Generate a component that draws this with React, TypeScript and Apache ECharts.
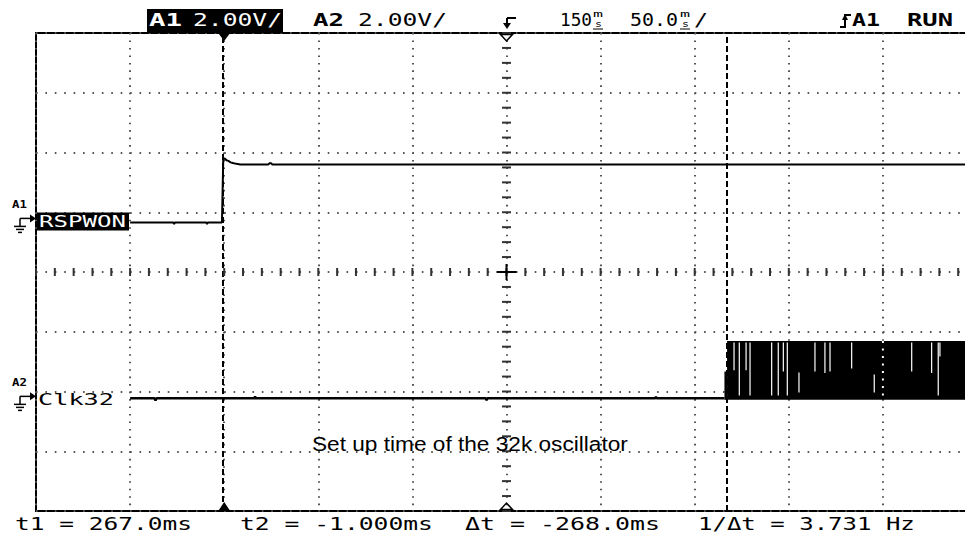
import React, { useEffect, useRef } from "react";
import * as echarts from "echarts";

// ---------------- data ----------------
const timeMin = -100; // ms (50 ms/div, 10 div)
const timeMax = 400;
const timeStep = 50;
const voltMin = -8; // V (2 V/div, 8 div)
const voltMax = 8;
const voltStep = 2;

const a1Offset = 1.66; // screen position of A1 ground (V)
const a2Offset = -4.23; // screen position of A2 ground (V)

// A1 : RSPWON
const a1Time = [-50, -27, -26.6, -26.2, -9.5, -9.1, -8.7, -1.2, -0.9, -0.5, 0.3, 1.2, 2.2, 3.4, 4.6, 6.5, 8.5, 23.5, 24, 25, 25.5, 400];
const a1Volt = [0, 0, -0.06, 0, 0, -0.06, 0, 0, 0.9, 2.12, 2.14, 2.08, 2.06, 2.01, 1.99, 1.96, 1.94, 1.94, 1.98, 1.98, 1.94, 1.94];

// A2 : Clk32 baseline before the oscillator starts
const a2Time = [-50, -37, -36.5, -36, 16, 16.4, 16.8, 139, 139.4, 139.8, 229, 229.4, 229.8, 265.8];
const a2Volt = [0, 0, -0.07, 0, 0, 0.06, 0, 0, -0.06, 0, 0, 0.05, 0, 0];

// A2 : oscillating clock envelope (peak detect)
const clkStart = [265.8, 267.2];
const clkEnd = [267.2, 400];
const clkLow = [-0.05, -0.05];
const clkHigh = [0.9, 1.92];

// A2 : untoggled slivers inside the burst
const gapTime = [270.9, 273.7, 277.3, 279.4, 290.9, 294.4, 297.1, 299.2, 305.4, 313.9, 319.2, 321.9, 333.4, 345.4, 365.3, 375.9, 379.4, 380.3];
const gapTop = [1.87, 1.87, 1.87, 1.87, 1.87, 1.87, 1.87, 1.87, 0.87, 1.87, 1.87, 1.87, 1.87, 0.8, 1.87, 1.87, 1.87, 1.87];
const gapBottom = [0.94, 0.1, 0.94, 0.1, 0.1, 0.1, 0.9, 0.1, 0.2, 0.9, 0.85, 0.9, 1.0, 0.2, 0.9, 0.85, 0.1, 1.4];

const cursorT1 = 267.0;
const cursorT2 = -1.0;
const triggerT = 0;

// texts
const a1Name = "A1";
const a2Name = "A2";
const a1Scale = "2.00V/";
const a2Scale = "2.00V/";
const delayText = "150";
const timebaseText = "50.0";
const runText = "RUN";
const a1Label = "RSPWON";
const a2Label = "Clk32";
const t1Text = "t1 = 267.0ms";
const t2Text = "t2 = -1.000ms";
const dtText = "\u0394t = -268.0ms";
const invText = "1/\u0394t = 3.731 Hz";
const noteText = "Set up time of the 32k oscillator";

// ---------------- layout ----------------
const GL = 36;
const GT = 33;
const GW = 941;
const GH = 478;
const MONO = "DejaVu Sans Mono";

let measureCtx: CanvasRenderingContext2D | null = null;
function measure(text: string, font: string) {
  if (!measureCtx) measureCtx = document.createElement("canvas").getContext("2d");
  if (!measureCtx) return text.length * 10;
  measureCtx.font = font;
  return measureCtx.measureText(text).width;
}

function fitText(text: string, x: number, y: number, width: number, size: number, fill: string, weight = "normal", family = MONO) {
  const w = measure(text, `${weight} ${size}px "${family}"`);
  return {
    type: "text",
    x,
    y,
    scaleX: width / w,
    z: 100,
    style: {
      text,
      fill,
      fontSize: size,
      fontWeight: weight,
      fontFamily: family,
      textAlign: "left",
      textVerticalAlign: "middle",
      verticalAlign: "middle",
    },
  };
}

function line(x1: number, y1: number, x2: number, y2: number, w = 2, color = "#000", dash?: number[]) {
  return {
    type: "line",
    z: 100,
    shape: { x1, y1, x2, y2 },
    style: { stroke: color, lineWidth: w, lineDash: dash },
  };
}

function poly(points: number[][], fill: string | null, stroke: string | null = null) {
  return {
    type: "polygon",
    z: 100,
    shape: { points },
    style: { fill: fill || "none", stroke: stroke || "none", lineWidth: 1.5 },
  };
}

function groundSymbol(y: number, name: string) {
  return [
    fitText(name, 12, y - 16, 15, 11, "#000", "bold"),
    line(20, y + 6, 20, y - 2, 1.5),
    line(20, y - 2, 31, y - 2, 1.5),
    poly([[30, y - 6], [36, y - 2], [30, y + 2]], "#000"),
    line(14, y + 6, 26, y + 6, 1.5),
    line(16, y + 9, 24, y + 9, 1.5),
    line(18, y + 12, 22, y + 12, 1.5),
  ];
}

export default function App() {
  const ref = useRef<HTMLDivElement>(null);

  useEffect(() => {
    if (!ref.current) return;
    const chart = echarts.init(ref.current, undefined, { renderer: "svg" });

    const a1Data = a1Time.map((t, i) => [t, a1Volt[i] + a1Offset]);
    const a2Data = a2Time.map((t, i) => [t, a2Volt[i] + a2Offset]);
    const clkData = clkStart.map((s, i) => [s, clkEnd[i], clkLow[i] + a2Offset, clkHigh[i] + a2Offset]);
    const gapData = gapTime.map((t, i) => [t, gapTop[i] + a2Offset, gapBottom[i] + a2Offset]);

    chart.setOption({
      animation: false,
      backgroundColor: "#fff",
      grid: {
        left: GL,
        top: GT,
        width: GW,
        height: GH,
        show: true,
        borderColor: "#000",
        borderWidth: 2,
        backgroundColor: "transparent",
        containLabel: false,
        outerBoundsMode: "none",
      },
      xAxis: {
        type: "value",
        min: timeMin,
        max: timeMax,
        interval: timeStep,
        axisLine: { show: false },
        axisTick: { show: false },
        axisLabel: { show: false },
        splitLine: { show: true, lineStyle: { color: "#555", width: 2, type: [1.6, 5.87] } },
      },
      yAxis: {
        type: "value",
        min: voltMin,
        max: voltMax,
        interval: voltStep,
        axisLine: { show: false },
        axisTick: { show: false },
        axisLabel: { show: false },
        splitLine: { show: true, lineStyle: { color: "#555", width: 2, type: [1.6, 7.81] } },
      },
      series: [
        {
          type: "line",
          data: a1Data,
          showSymbol: false,
          symbol: "none",
          lineStyle: { color: "#000", width: 2 },
          z: 3,
          markLine: {
            silent: true,
            symbol: ["none", "none"],
            label: { show: false },
            lineStyle: { color: "#000", width: 2, type: [6, 3] },
            data: [{ xAxis: cursorT2 }, { xAxis: cursorT1 }],
          },
        },
        {
          type: "line",
          data: a2Data,
          showSymbol: false,
          symbol: "none",
          lineStyle: { color: "#000", width: 2.5 },
          z: 3,
        },
        {
          type: "custom",
          data: clkData,
          encode: { x: [0, 1], y: [2, 3] },
          z: 4,
          renderItem: (_p: any, api: any) => {
            const p0 = api.coord([api.value(0), api.value(3)]);
            const p1 = api.coord([api.value(1), api.value(2)]);
            return {
              type: "rect",
              shape: { x: p0[0], y: p0[1], width: p1[0] - p0[0], height: p1[1] - p0[1] },
              style: { fill: "#000" },
            };
          },
        },
        {
          type: "custom",
          data: gapData,
          encode: { x: 0, y: [1, 2] },
          z: 5,
          renderItem: (_p: any, api: any) => {
            const p0 = api.coord([api.value(0), api.value(1)]);
            const p1 = api.coord([api.value(0), api.value(2)]);
            return {
              type: "line",
              shape: { x1: p0[0], y1: p0[1], x2: p1[0], y2: p1[1] },
              style: { stroke: "#fff", lineWidth: 1.2 },
            };
          },
        },
      ],
    });

    const toPx = (t: number, v: number) => chart.convertToPixel({ xAxisIndex: 0, yAxisIndex: 0 }, [t, v]) as number[];
    const center = toPx((timeMin + timeMax) / 2, 0);
    const cx = center[0];
    const cy = center[1];
    const dx = GW / 10;
    const dy = GH / 8;
    const trigX = toPx(triggerT, 0)[0];
    const a1Y = toPx(0, a1Offset)[1];
    const a2Y = toPx(0, a2Offset)[1];
    const gridX = toPx(350, 0)[0];
    const burstTop = toPx(0, clkHigh[1] + a2Offset)[1];
    const burstBot = toPx(0, clkLow[1] + a2Offset)[1];

    const g: any[] = [];
    // centre graticule ticks
    for (let i = 0; i <= 50; i++) {
      const x = GL + (i * dx) / 5;
      g.push(line(x, cy - 4, x, cy + 4, 2, "#333"));
    }
    for (let j = 0; j <= 32; j++) {
      const y = GT + (j * dy) / 4;
      g.push(line(cx - 4.5, y, cx + 4.5, y, 2, "#333"));
    }
    g.push(line(cx - 10, cy, cx + 10, cy, 2));
    g.push(line(cx, cy - 8, cx, cy + 8, 2));
    // white graticule dots through the burst
    g.push(line(gridX, burstTop, gridX, burstBot, 2, "#fff", [2, 5.5]));

    // trigger markers
    g.push(poly([[trigX - 6, GT], [trigX + 6, GT], [trigX, GT + 8]], "#000"));
    g.push(poly([[trigX - 6, GT + GH], [trigX + 6, GT + GH], [trigX, GT + GH - 9]], "#000"));
    g.push(poly([[cx - 6, GT + 1.5], [cx + 6, GT + 1.5], [cx, GT + 8]], null, "#000"));
    g.push(poly([[cx - 6, GT + GH - 1.5], [cx + 6, GT + GH - 1.5], [cx, GT + GH - 8]], null, "#000"));

    // header
    g.push({ type: "rect", z: 99, shape: { x: 147, y: 9, width: 136, height: 24 }, style: { fill: "#000" } });
    g.push(fitText(a1Name, 149, 20, 33, 17, "#fff", "bold"));
    g.push(fitText(a1Scale, 193, 20, 89, 17, "#fff"));
    g.push(fitText(a2Name, 313, 20, 31, 17, "#000", "bold"));
    g.push(fitText(a2Scale, 358, 20, 89, 17, "#000"));
    // trigger symbol
    g.push(line(507, 18, 516, 18, 2));
    g.push(line(507, 18, 507, 25, 2));
    g.push(poly([[503, 23], [511, 23], [507, 29]], "#000"));
    g.push(fitText(delayText, 560, 20, 32, 17, "#000"));
    g.push(fitText("m", 593, 14, 10, 9, "#000"));
    g.push(fitText("s", 595, 24, 7, 9, "#000"));
    g.push(line(593, 29, 603, 29, 1));
    g.push(fitText(timebaseText, 630, 20, 48, 17, "#000"));
    g.push(fitText("m", 680, 14, 10, 9, "#000"));
    g.push(fitText("s", 682, 24, 7, 9, "#000"));
    g.push(line(680, 29, 690, 29, 1));
    g.push(fitText("/", 694, 20, 14, 17, "#000"));
    // rising edge symbol
    g.push({ type: "polyline", z: 100, shape: { points: [[840, 27], [845, 27], [845, 15], [851, 15]] }, style: { stroke: "#000", lineWidth: 2, fill: "none" } });
    g.push(poly([[842, 20], [848, 20], [845, 14]], "#000"));
    g.push(fitText(a1Name, 852, 20, 28, 17, "#000", "bold"));
    g.push(fitText(runText, 907, 20, 46, 17, "#000", "bold"));

    // channel labels
    g.push(...groundSymbol(a1Y - 2, a1Name));
    g.push({ type: "rect", z: 99, shape: { x: 37, y: a1Y - 10, width: 92, height: 18 }, style: { fill: "#000" } });
    g.push(fitText(a1Label, 39, a1Y - 1, 87, 15, "#fff"));
    g.push(...groundSymbol(a2Y, a2Name));
    g.push(fitText(a2Label, 38, a2Y + 1, 76, 16, "#000"));

    // annotation
    g.push(fitText(noteText, 312, 444, 316, 20, "#000", "normal", "Liberation Sans"));

    // bottom readout
    g.push(fitText(t1Text, 15, 524, 177, 17, "#000"));
    g.push(fitText(t2Text, 240, 524, 193, 17, "#000"));
    g.push(fitText(dtText, 465, 524, 195, 17, "#000"));
    g.push(fitText(invText, 698, 524, 217, 17, "#000"));

    chart.setOption({ graphic: { elements: g } });

    return () => chart.dispose();
  }, []);

  return (
    <div
      ref={ref}
      style={{ position: "absolute", left: 0, top: 0, width: 965, height: 536, background: "#fff" }}
    />
  );
}
